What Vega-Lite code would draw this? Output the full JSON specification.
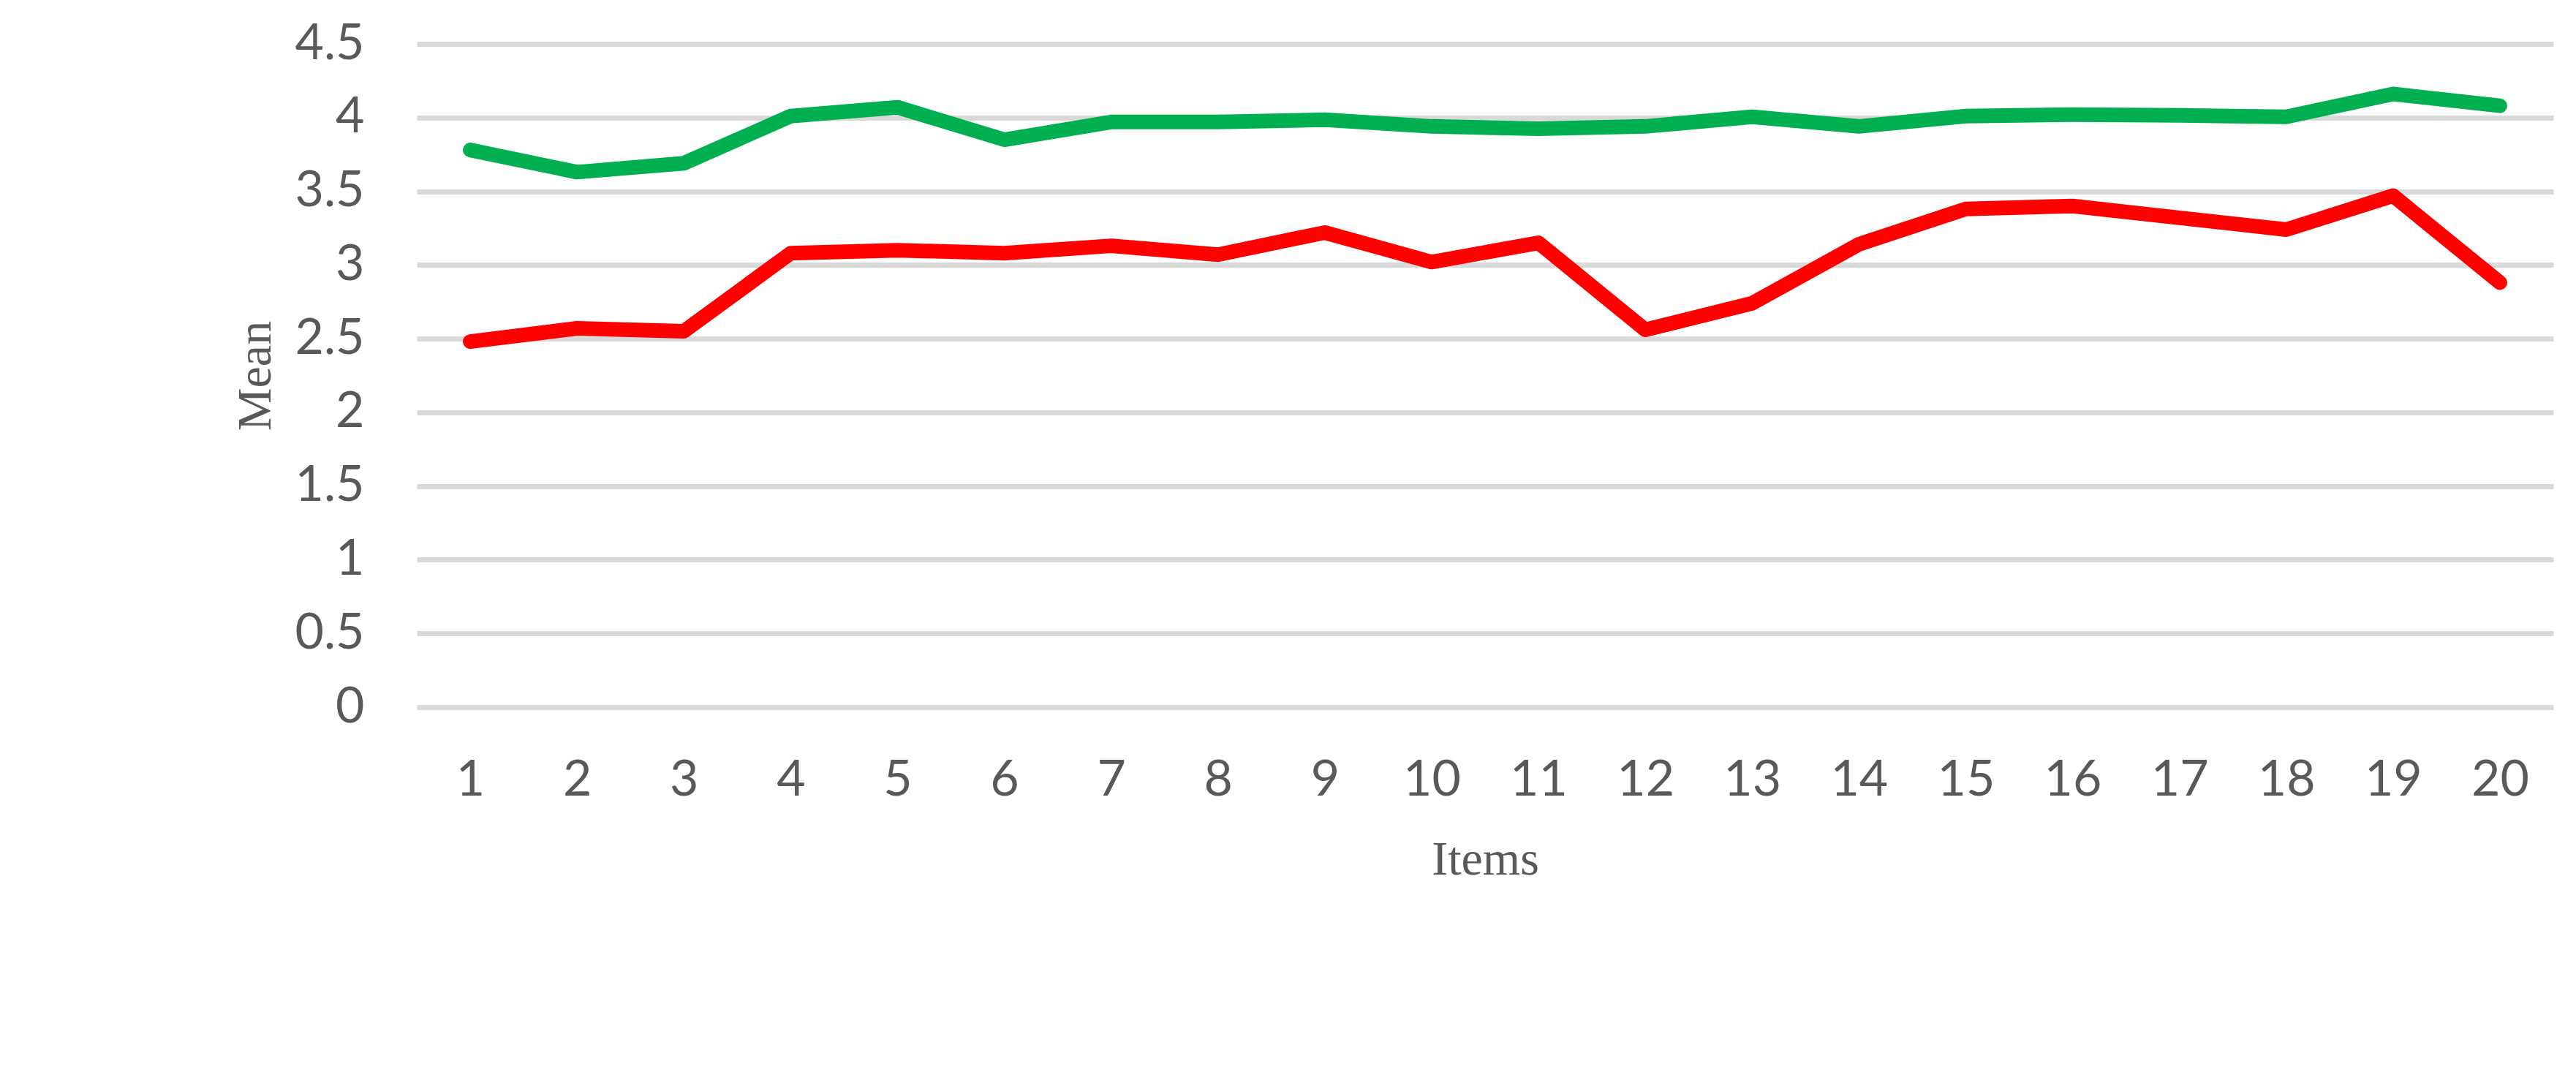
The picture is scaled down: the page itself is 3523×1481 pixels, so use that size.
{
  "$schema": "https://vega.github.io/schema/vega-lite/v6.json",
  "autosize": {"type": "none"},
  "padding": {"left": 570, "top": 60, "right": 31, "bottom": 514},
  "width": 2922,
  "height": 907,
  "background": "white",
  "data": {
    "values": [
      {"item": 1, "series": "A", "mean": 3.78},
      {"item": 2, "series": "A", "mean": 3.63},
      {"item": 3, "series": "A", "mean": 3.69},
      {"item": 4, "series": "A", "mean": 4.01},
      {"item": 5, "series": "A", "mean": 4.07},
      {"item": 6, "series": "A", "mean": 3.85},
      {"item": 7, "series": "A", "mean": 3.97},
      {"item": 8, "series": "A", "mean": 3.97},
      {"item": 9, "series": "A", "mean": 3.985},
      {"item": 10, "series": "A", "mean": 3.94},
      {"item": 11, "series": "A", "mean": 3.925},
      {"item": 12, "series": "A", "mean": 3.94},
      {"item": 13, "series": "A", "mean": 4.005},
      {"item": 14, "series": "A", "mean": 3.94},
      {"item": 15, "series": "A", "mean": 4.01},
      {"item": 16, "series": "A", "mean": 4.02},
      {"item": 17, "series": "A", "mean": 4.015},
      {"item": 18, "series": "A", "mean": 4.005},
      {"item": 19, "series": "A", "mean": 4.16},
      {"item": 20, "series": "A", "mean": 4.08},
      {"item": 1, "series": "B", "mean": 2.48},
      {"item": 2, "series": "B", "mean": 2.57},
      {"item": 3, "series": "B", "mean": 2.55},
      {"item": 4, "series": "B", "mean": 3.08},
      {"item": 5, "series": "B", "mean": 3.10},
      {"item": 6, "series": "B", "mean": 3.08},
      {"item": 7, "series": "B", "mean": 3.13},
      {"item": 8, "series": "B", "mean": 3.07},
      {"item": 9, "series": "B", "mean": 3.22},
      {"item": 10, "series": "B", "mean": 3.02},
      {"item": 11, "series": "B", "mean": 3.15},
      {"item": 12, "series": "B", "mean": 2.56},
      {"item": 13, "series": "B", "mean": 2.74},
      {"item": 14, "series": "B", "mean": 3.14},
      {"item": 15, "series": "B", "mean": 3.38},
      {"item": 16, "series": "B", "mean": 3.40},
      {"item": 17, "series": "B", "mean": 3.32},
      {"item": 18, "series": "B", "mean": 3.24},
      {"item": 19, "series": "B", "mean": 3.47},
      {"item": 20, "series": "B", "mean": 2.88}
    ]
  },
  "mark": {"type": "line", "strokeWidth": 20, "strokeCap": "round", "strokeJoin": "round"},
  "encoding": {
    "x": {
      "field": "item",
      "type": "ordinal",
      "scale": {"type": "point", "padding": 0.5},
      "axis": {
        "title": "Items",
        "labelAngle": 0,
        "grid": false,
        "domain": false,
        "ticks": false,
        "tickSize": 0,
        "labelPadding": 66,
        "labelFont": "Lato",
        "labelFontSize": 68,
        "labelColor": "#595959",
        "titleFont": "Liberation Serif",
        "titleFontSize": 66,
        "titleFontWeight": "normal",
        "titleColor": "#595959",
        "titlePadding": 42
      }
    },
    "y": {
      "field": "mean",
      "type": "quantitative",
      "scale": {"domain": [0, 4.5], "nice": false, "zero": true},
      "axis": {
        "title": "Mean",
        "values": [0, 0.5, 1, 1.5, 2, 2.5, 3, 3.5, 4, 4.5],
        "format": ".1~f",
        "grid": true,
        "gridColor": "#d9d9d9",
        "gridWidth": 7,
        "domain": false,
        "ticks": false,
        "tickSize": 0,
        "labelPadding": 72,
        "labelFont": "Lato",
        "labelFontSize": 68,
        "labelColor": "#595959",
        "titleFont": "Liberation Serif",
        "titleFontSize": 66,
        "titleFontWeight": "normal",
        "titleColor": "#595959",
        "titlePadding": 20
      }
    },
    "color": {
      "field": "series",
      "type": "nominal",
      "scale": {"domain": ["A", "B"], "range": ["#00b050", "#ff0000"]},
      "legend": null
    }
  },
  "config": {
    "view": {"stroke": null}
  }
}
